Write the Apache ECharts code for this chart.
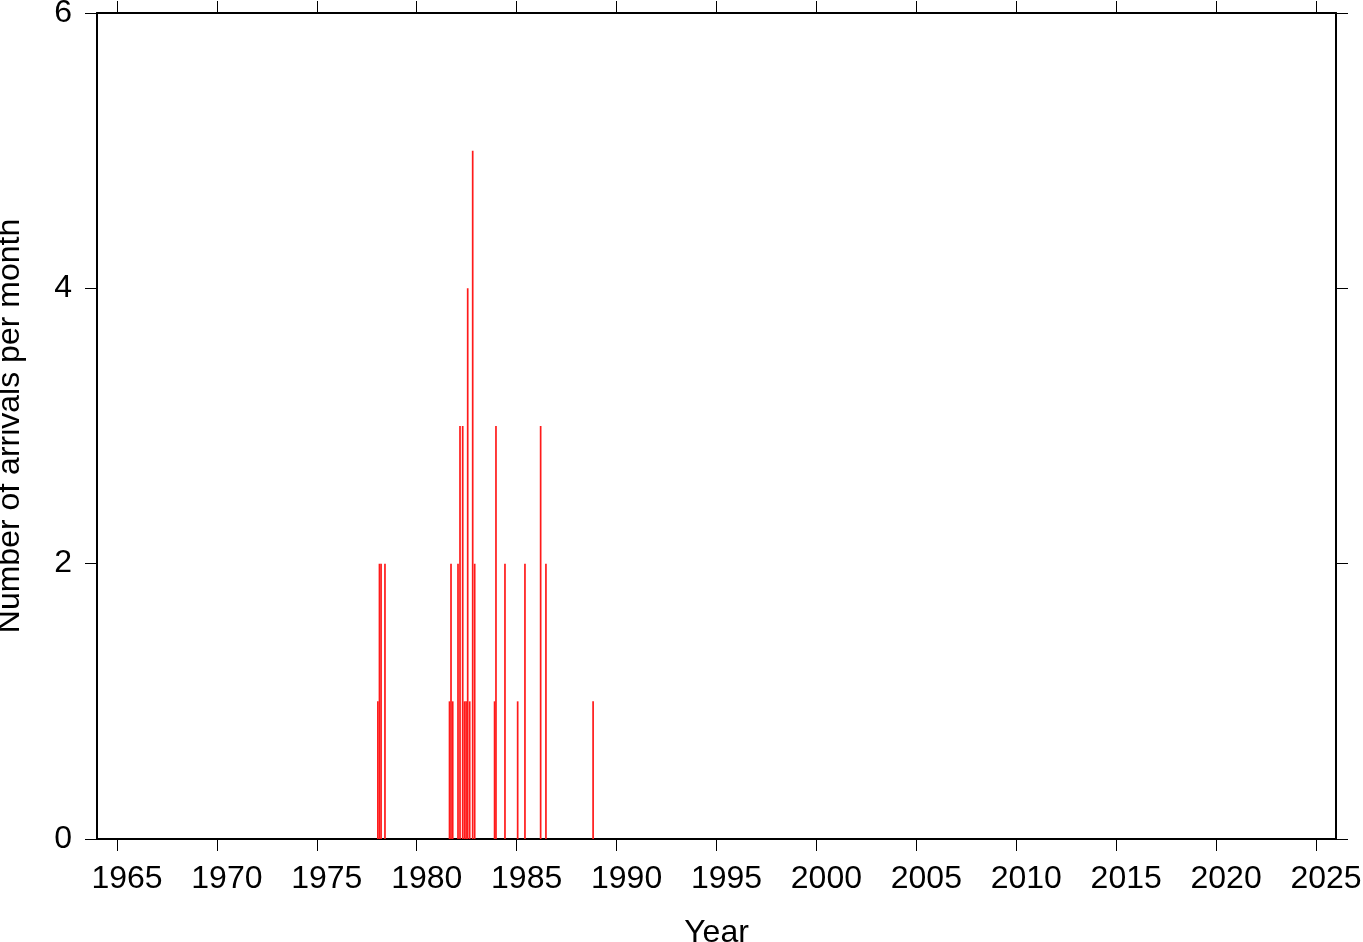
<!DOCTYPE html>
<html>
<head>
<meta charset="utf-8">
<script src="https://cdn.jsdelivr.net/npm/echarts@6/dist/echarts.min.js"></script>
<style>
html,body{margin:0;padding:0;background:#fff;}
#chart{width:1363px;height:942px;}
</style>
</head>
<body>
<div id="chart"></div>
<script>
// Decimal-year position of each monthly bar and the number of arrivals in it
const years = [1978.055, 1978.135, 1978.215, 1978.41,
  1981.64, 1981.715, 1981.80, 1982.065, 1982.165, 1982.30, 1982.39, 1982.47,
  1982.55, 1982.65, 1982.80, 1982.90,
  1983.895, 1983.965, 1984.415, 1985.05, 1985.415, 1986.20, 1986.465, 1988.825];
const counts = [1, 2, 2, 2,
  1, 2, 1, 2, 3, 3, 1, 1,
  4, 1, 5, 2,
  1, 3, 2, 1, 2, 3, 2, 1];
const xTicks = [1965, 1970, 1975, 1980, 1985, 1990, 1995, 2000, 2005, 2010, 2015, 2020, 2025];
const yTicks = [0, 2, 4, 6];

const FONT = 'Liberation Sans, Arial, Helvetica, sans-serif';
const FS = 32;
const chart = echarts.init(document.getElementById('chart'), null, {renderer: 'canvas'});

const lineStyle = {color: '#000', width: 2};
const tickStyle = {color: '#000', width: 1};

chart.setOption({
  animation: false,
  backgroundColor: '#fff',
  grid: {left: 97, right: 27, top: 13, bottom: 103, show: false, containLabel: false, outerBoundsMode: 'none'},
  xAxis: [{
    type: 'value', position: 'bottom', min: 1964, max: 2026,
    axisLine: {show: true, onZero: false, lineStyle: lineStyle},
    axisTick: {show: true, length: 12, lineStyle: tickStyle, customValues: xTicks},
    axisLabel: {show: true, color: '#000', fontSize: FS, fontFamily: FONT, margin: 24, customValues: xTicks,
      padding: [0, 0, 0, 20], formatter: v => String(v)},
    splitLine: {show: false},
    name: 'Year', nameLocation: 'middle', nameGap: 78,
    nameTextStyle: {color: '#000', fontSize: FS, fontFamily: FONT}
  }, {
    type: 'value', position: 'top', min: 1964, max: 2026,
    axisLine: {show: true, onZero: false, lineStyle: lineStyle},
    axisTick: {show: true, length: 12, lineStyle: tickStyle, customValues: xTicks},
    axisLabel: {show: false},
    splitLine: {show: false}
  }],
  yAxis: [{
    type: 'value', position: 'left', min: 0, max: 6, interval: 2,
    axisLine: {show: true, onZero: false, lineStyle: lineStyle},
    axisTick: {show: true, length: 12, lineStyle: tickStyle},
    axisLabel: {show: true, color: '#000', fontSize: FS, fontFamily: FONT, margin: 25},
    splitLine: {show: false},
    name: 'Number of arrivals per month', nameLocation: 'middle', nameGap: 71,
    nameTextStyle: {color: '#000', fontSize: FS, fontFamily: FONT}
  }, {
    type: 'value', position: 'right', min: 0, max: 6, interval: 2,
    axisLine: {show: true, onZero: false, lineStyle: lineStyle},
    axisTick: {show: true, length: 12, lineStyle: tickStyle},
    axisLabel: {show: false},
    splitLine: {show: false}
  }],
  series: [{
    type: 'bar',
    xAxisIndex: 0, yAxisIndex: 0,
    barWidth: 1.7,
    itemStyle: {color: '#ff1a1a'},
    data: years.map((y, i) => [y, counts[i]])
  }]
});
</script>
</body>
</html>
